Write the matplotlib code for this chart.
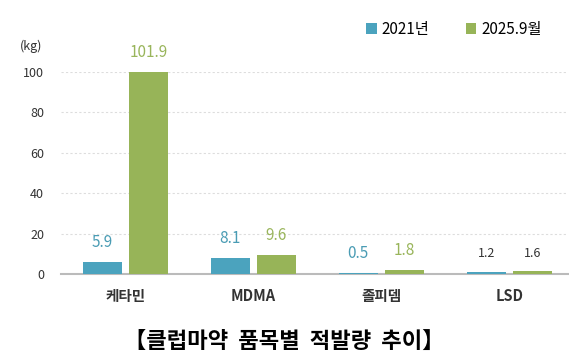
import matplotlib
matplotlib.use("Agg")
import matplotlib.pyplot as plt
import numpy as np

plt.rcParams['font.family'] = ['Noto Sans CJK KR', 'DejaVu Sans']

categories = ["케타민", "MDMA", "졸피뎀", "LSD"]
series_names = ["2021년", "2025.9월"]
values_2021 = [5.9, 8.1, 0.5, 1.2]
values_2025 = [101.9, 9.6, 1.8, 1.6]
y_ticks = [0, 20, 40, 60, 80, 100]

blue = "#4BA3BE"
green = "#97B458"
blue_txt = "#4A9CB4"
green_txt = "#99B55B"

fig = plt.figure(figsize=(5.69, 3.62), dpi=100)
ax = fig.add_axes([0.107, 0.243, 0.891, 0.558])

x = np.arange(len(categories))
w = 0.305
off = 0.18
ax.bar(x - off, values_2021, w, color=blue, label=series_names[0], zorder=3)
ax.bar(x + off, values_2025, w, color=green, label=series_names[1], zorder=3)

ax.set_xlim(-0.504, 3.457)
ax.set_ylim(0, 100)
ax.set_yticks(y_ticks)
ax.tick_params(axis='y', length=0, labelsize=9, colors="#333333", pad=12)
ax.set_xticks(x)
ax.set_xticklabels(categories, fontsize=10.5, fontweight='bold', color="#333333")
ax.tick_params(axis='x', length=0, pad=10)

for s in ["top", "right", "left"]:
    ax.spines[s].set_visible(False)
ax.spines["bottom"].set_color("#BBBBBB")
ax.spines["bottom"].set_linewidth(1.5)
ax.grid(axis='y', color="#DDDDDD", linestyle=(0, (2, 2)), linewidth=0.8, zorder=0)

# 막대 위 값 표시
for i in range(len(categories)):
    if categories[i] == "LSD":
        c1, c2, fs = "#333333", "#333333", 9
    else:
        c1, c2, fs = blue_txt, green_txt, 11
    ax.annotate(f"{values_2021[i]}", (x[i] - off, min(values_2021[i], 100)),
                xytext=(0, 8), textcoords="offset points", ha="center", va="bottom",
                fontsize=fs, color=c1, annotation_clip=False)
    ax.annotate(f"{values_2025[i]}", (x[i] + off, min(values_2025[i], 100)),
                xytext=(0, 8), textcoords="offset points", ha="center", va="bottom",
                fontsize=fs, color=c2, annotation_clip=False)

fig.text(0.035, 0.873, "(kg)", fontsize=9, color="#333333", va="center")

ax.legend(loc="upper right", bbox_to_anchor=(0.975, 1.32), ncol=2, frameon=False,
          fontsize=11, handlelength=0.7, handleheight=0.7, handletextpad=0.3,
          columnspacing=2.4)

fig.text(0.50, 0.058, "【클럽마약  품목별  적발량  추이】", fontsize=16, fontweight='heavy',
         ha="center", va="center", color="black")

fig.savefig("out.png", dpi=100)
